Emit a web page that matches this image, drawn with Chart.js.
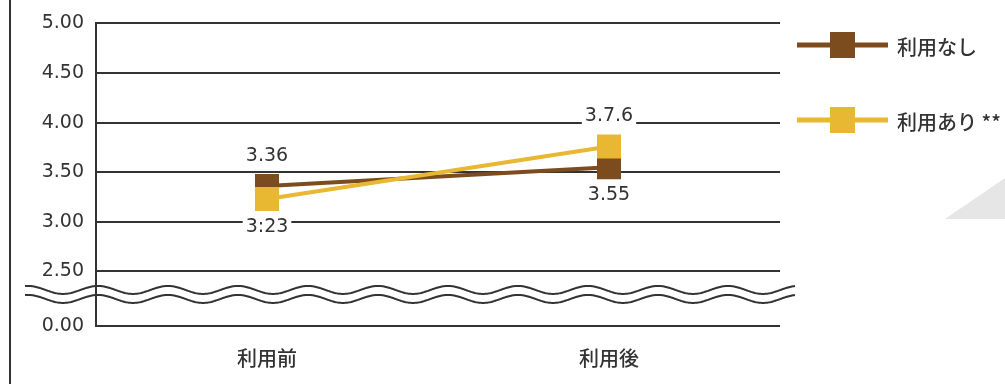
<!DOCTYPE html>
<html>
<head>
<meta charset="utf-8">
<script src="https://cdn.jsdelivr.net/npm/chart.js@4.4.1/dist/chart.umd.min.js"></script>
<style>
  html, body { margin: 0; padding: 0; background: #fff; }
  canvas { display: block; }
</style>
</head>
<body>
<canvas id="usageChart" width="1005" height="384"></canvas>
<script>
    // categories and series
    var periods = ['利用前', '利用後'];
    var seriesNames = ['利用なし', '利用あり **'];
    var withoutUse = [3.36, 3.55];
    var withUse = [3.23, 3.76];
    // value labels as printed beside each point
    var withoutUseLabels = ['3.36', '3.55'];
    var withUseLabels = ['3:23', '3.7.6'];

    // y axis: 0.00 sits just under the break, then 2.50 .. 5.00
    var yTickValues = [0, 2.5, 3, 3.5, 4, 4.5, 5];
    var yTickLabels = ['0.00', '2.50', '3.00', '3.50', '4.00', '4.50', '5.00'];
    var axisFloor = 1.95;

    var BROWN = '#7c4b1e';
    var YELLOW = '#e8b833';
    var INK = '#333';
    var NUM_FONT = '19px "DejaVu Sans", sans-serif';
    var JP_FONT = '500 20px "Noto Sans CJK JP", sans-serif';

    function tickPos(v) {
        return v === 0 ? axisFloor : v;
    }

    // page frame: left rule and the grey corner wedge
    var framePlugin = {
        id: 'frame',
        beforeDraw: function (chart) {
            var ctx = chart.ctx;
            ctx.save();
            ctx.fillStyle = '#fff';
            ctx.fillRect(0, 0, chart.width, chart.height);
            ctx.fillStyle = '#e6e6e6';
            ctx.beginPath();
            ctx.moveTo(945, 219);
            ctx.lineTo(1005, 178);
            ctx.lineTo(1005, 219);
            ctx.closePath();
            ctx.fill();
            ctx.strokeStyle = INK;
            ctx.lineWidth = 2;
            ctx.beginPath();
            ctx.moveTo(10, 0);
            ctx.lineTo(10, chart.height);
            ctx.stroke();
            ctx.restore();
        }
    };

    // double wavy line marking the broken y axis
    var axisBreakPlugin = {
        id: 'axisBreak',
        afterDraw: function (chart) {
            var ctx = chart.ctx;
            var y = chart.scales.y;
            var mid = y.getPixelForValue(2.5) + 23;
            var x0 = 25, x1 = chart.chartArea.right + 15;
            var period = 70, amp = 4;
            ctx.save();
            ctx.strokeStyle = INK;
            ctx.lineWidth = 2;
            [-4.5, 4.5].forEach(function (off) {
                ctx.beginPath();
                for (var x = x0; x <= x1; x += 1) {
                    var yy = mid + off - amp * Math.cos((x - 728) / period * 2 * Math.PI);
                    if (x === x0) ctx.moveTo(x, yy); else ctx.lineTo(x, yy);
                }
                ctx.stroke();
            });
            ctx.restore();
        }
    };

    // value labels sitting on a white patch
    var valueLabelPlugin = {
        id: 'valueLabels',
        afterDatasetsDraw: function (chart) {
            var ctx = chart.ctx;
            ctx.save();
            ctx.font = NUM_FONT;
            ctx.textAlign = 'center';
            ctx.textBaseline = 'middle';
            chart.data.datasets.forEach(function (ds, i) {
                var meta = chart.getDatasetMeta(i);
                meta.data.forEach(function (pt, j) {
                    var text = ds.valueLabels[j];
                    var dy = ds.labelSide[j] === 'above' ? -30 : 28;
                    var w = ctx.measureText(text).width;
                    ctx.fillStyle = '#fff';
                    ctx.fillRect(pt.x - w / 2 - 3, pt.y + dy - 9, w + 6, 18);
                    ctx.fillStyle = INK;
                    ctx.fillText(text, pt.x, pt.y + dy);
                });
            });
            ctx.restore();
        }
    };

    // legend on the right: line with a square marker, then the name
    var legendPlugin = {
        id: 'sideLegend',
        afterDraw: function (chart) {
            var ctx = chart.ctx;
            var rows = [45, 120];
            ctx.save();
            chart.data.datasets.forEach(function (ds) {
                var y = rows[ds.legendIndex];
                ctx.strokeStyle = ds.borderColor;
                ctx.lineWidth = 5;
                ctx.beginPath();
                ctx.moveTo(797, y);
                ctx.lineTo(888, y);
                ctx.stroke();
                ctx.fillStyle = ds.borderColor;
                ctx.fillRect(830, y - 13, 25, 26);
                ctx.fillStyle = INK;
                ctx.font = JP_FONT;
                ctx.textAlign = 'left';
                ctx.textBaseline = 'middle';
                ctx.fillText(ds.label, 897, y + 2);
            });
            ctx.restore();
        }
    };

    var ctx = document.getElementById('usageChart').getContext('2d');
    new Chart(ctx, {
        type: 'line',
        data: {
            labels: periods,
            datasets: [{
                label: seriesNames[1],
                data: withUse,
                valueLabels: withUseLabels,
                labelSide: ['below', 'above'],
                legendIndex: 1,
                order: 0,
                borderColor: YELLOW,
                backgroundColor: YELLOW,
                borderWidth: 4,
                pointStyle: 'rect',
                pointRadius: 17,
                pointBorderWidth: 0,
                fill: false
            }, {
                label: seriesNames[0],
                data: withoutUse,
                valueLabels: withoutUseLabels,
                labelSide: ['above', 'below'],
                legendIndex: 0,
                order: 1,
                borderColor: BROWN,
                backgroundColor: BROWN,
                borderWidth: 4,
                pointStyle: 'rect',
                pointRadius: 17,
                pointBorderWidth: 0,
                fill: false
            }]
        },
        options: {
            responsive: false,
            animation: false,
            layout: { padding: { top: 20, right: 225, left: 0, bottom: 0 } },
            plugins: {
                legend: { display: false },
                tooltip: { enabled: false }
            },
            scales: {
                x: {
                    offset: true,
                    grid: { display: false },
                    border: { display: false },
                    ticks: { color: INK, font: { family: '"Noto Sans CJK JP"', size: 20, weight: '500' }, padding: 12 },
                    afterFit: function (s) { s.height = 58; }
                },
                y: {
                    min: axisFloor,
                    max: 5,
                    afterBuildTicks: function (s) {
                        s.ticks = yTickValues.map(function (v) { return { value: tickPos(v) }; });
                    },
                    grid: { color: INK, lineWidth: 2, drawTicks: false },
                    border: { display: true, color: INK, width: 2 },
                    ticks: {
                        color: INK,
                        font: { family: '"DejaVu Sans"', size: 19 },
                        padding: 12,
                        callback: function (value, index) { return yTickLabels[index]; }
                    },
                    afterFit: function (s) { s.width = 96; }
                }
            }
        },
        plugins: [framePlugin, valueLabelPlugin, axisBreakPlugin, legendPlugin]
    });
</script>
</body>
</html>
